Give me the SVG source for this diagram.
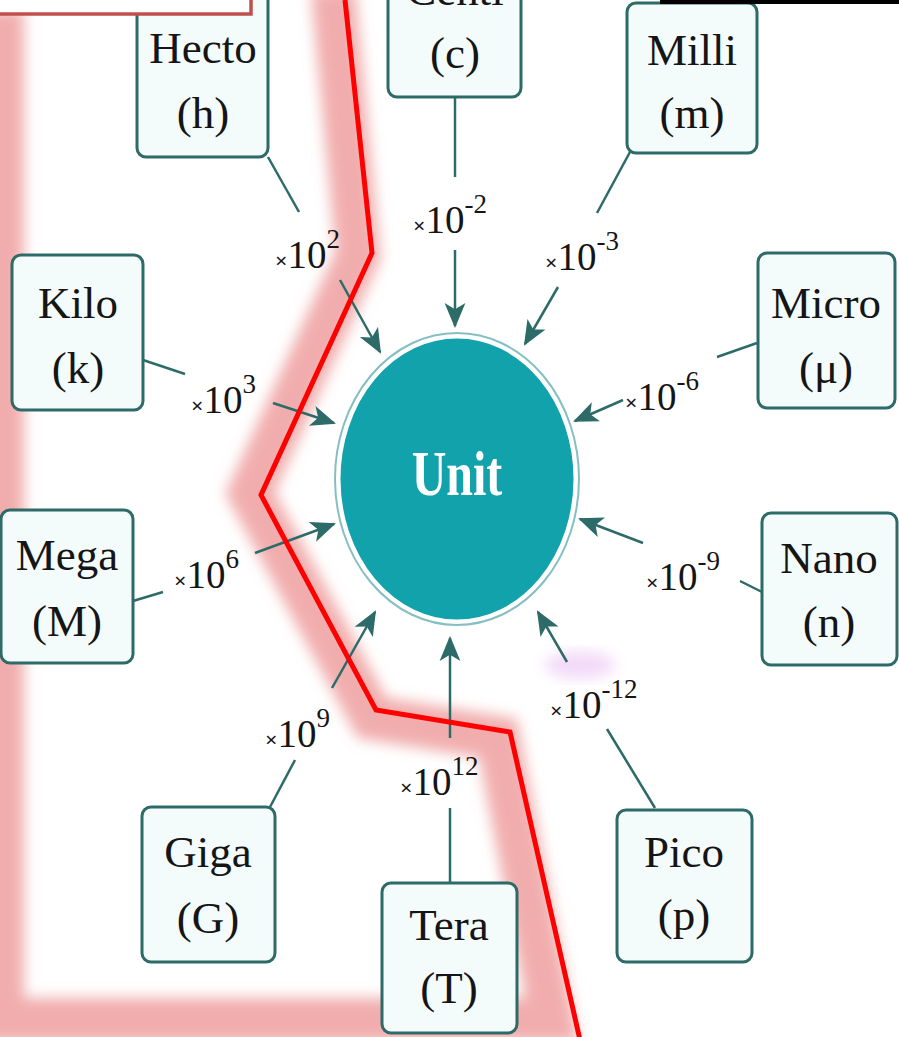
<svg xmlns="http://www.w3.org/2000/svg" width="899" height="1037" viewBox="0 0 899 1037">
<defs>
<style>
.box{fill:#f3fbfb;stroke:#2d6b68;stroke-width:3}
.nt{font-family:"Liberation Serif","Times New Roman",serif;font-size:45px;fill:#151515;text-anchor:middle}
.lb{font-family:"Liberation Serif","Times New Roman",serif;fill:#151515}
.x{font-size:22px;font-weight:bold}
.n{font-size:39px}
.s{font-size:27px}
.ln{stroke:#2d6b68;stroke-width:2.5;fill:none}
.ar{stroke:#2d6b68;stroke-width:2.5;fill:none;marker-end:url(#ah)}
</style>
<marker id="ah" viewBox="0 0 12 10" refX="11" refY="5" markerWidth="10" markerHeight="9" orient="auto" markerUnits="strokeWidth">
<path d="M0,0 L12,5 L0,10 L3,5 Z" fill="#2d6b68"/>
</marker>
<filter id="bl" x="-20%" y="-20%" width="140%" height="140%"><feGaussianBlur stdDeviation="7"/></filter>
</defs>
<rect width="899" height="1037" fill="#ffffff"/>
<g id="highlight">
<path d="M2,10 L2,1020 L552,1020 L498,738 L372,718 L250,493 L358,255 L333,-10" fill="none" stroke="#ee9898" stroke-opacity="0.8" stroke-width="44" filter="url(#bl)"/>
<ellipse cx="580" cy="665" rx="35" ry="14" fill="#e4aef0" opacity="0.45" filter="url(#bl)"/>
</g>
<g id="connectors">
<line class="ln" x1="268" y1="157" x2="299" y2="212"/>
<line class="ar" x1="340" y1="280" x2="380" y2="352"/>
<line class="ln" x1="143" y1="360" x2="185" y2="374"/>
<line class="ar" x1="273" y1="403" x2="334" y2="423"/>
<line class="ln" x1="133" y1="601" x2="163" y2="592"/>
<line class="ar" x1="255" y1="553" x2="334" y2="524"/>
<line class="ln" x1="270" y1="807" x2="295" y2="760"/>
<line class="ar" x1="332" y1="688" x2="375" y2="612"/>
<line class="ln" x1="450" y1="883" x2="450" y2="808"/>
<line class="ar" x1="450" y1="738" x2="450" y2="638"/>
<line class="ln" x1="655" y1="808" x2="607" y2="729"/>
<line class="ar" x1="567" y1="662" x2="538" y2="612"/>
<line class="ln" x1="762" y1="592" x2="740" y2="581"/>
<line class="ar" x1="643" y1="543" x2="580" y2="519"/>
<line class="ln" x1="757" y1="343" x2="717" y2="357"/>
<line class="ar" x1="623" y1="400" x2="575" y2="421"/>
<line class="ln" x1="630" y1="152" x2="597" y2="213"/>
<line class="ar" x1="558" y1="287" x2="525" y2="344"/>
<line class="ln" x1="455" y1="97" x2="455" y2="177"/>
<line class="ar" x1="455" y1="250" x2="455" y2="326"/>
</g>
<g id="labels">
<text class="lb" x="275" y="268"><tspan class="x">×</tspan><tspan class="n">10</tspan><tspan class="s" dy="-20">2</tspan></text>
<text class="lb" x="191" y="413"><tspan class="x">×</tspan><tspan class="n">10</tspan><tspan class="s" dy="-20">3</tspan></text>
<text class="lb" x="174" y="588"><tspan class="x">×</tspan><tspan class="n">10</tspan><tspan class="s" dy="-20">6</tspan></text>
<text class="lb" x="265" y="747"><tspan class="x">×</tspan><tspan class="n">10</tspan><tspan class="s" dy="-20">9</tspan></text>
<text class="lb" x="400" y="795"><tspan class="x">×</tspan><tspan class="n">10</tspan><tspan class="s" dy="-20">12</tspan></text>
<text class="lb" x="550" y="718"><tspan class="x">×</tspan><tspan class="n">10</tspan><tspan class="s" dy="-20">-12</tspan></text>
<text class="lb" x="646" y="590"><tspan class="x">×</tspan><tspan class="n">10</tspan><tspan class="s" dy="-20">-9</tspan></text>
<text class="lb" x="625" y="410"><tspan class="x">×</tspan><tspan class="n">10</tspan><tspan class="s" dy="-20">-6</tspan></text>
<text class="lb" x="545" y="270"><tspan class="x">×</tspan><tspan class="n">10</tspan><tspan class="s" dy="-20">-3</tspan></text>
<text class="lb" x="413" y="233"><tspan class="x">×</tspan><tspan class="n">10</tspan><tspan class="s" dy="-20">-2</tspan></text>
</g>
<g id="unit">
<ellipse cx="457" cy="479" rx="122" ry="146" fill="none" stroke="#86bfc2" stroke-width="2"/>
<ellipse cx="457" cy="479" rx="118" ry="142" fill="#12a2ab" stroke="#ffffff" stroke-width="3"/>
<text x="457" y="495" transform="translate(457 495) scale(1 1.3) translate(-457 -495)" font-family="'Liberation Serif','Times New Roman',serif" font-size="48" font-weight="bold" fill="#ffffff" text-anchor="middle">Unit</text>
</g>
<g id="hecto"><rect class="box" x="137" y="-8" width="131" height="165" rx="9"/><text class="nt" x="203" y="63">Hecto</text><text class="nt" x="203" y="128">(h)</text></g>
<g id="centi"><rect class="box" x="388" y="-70" width="133" height="167" rx="9"/><text class="nt" x="455" y="5">Centi</text><text class="nt" x="455" y="68">(c)</text></g>
<g id="milli"><rect class="box" x="627" y="3" width="130" height="150" rx="9"/><text class="nt" x="692" y="65">Milli</text><text class="nt" x="692" y="128">(m)</text></g>
<g id="kilo"><rect class="box" x="12" y="255" width="131" height="155" rx="9"/><text class="nt" x="78" y="318">Kilo</text><text class="nt" x="78" y="383">(k)</text></g>
<g id="mega"><rect class="box" x="1" y="510" width="132" height="153" rx="9"/><text class="nt" x="67" y="570">Mega</text><text class="nt" x="67" y="636">(M)</text></g>
<g id="micro"><rect class="box" x="758" y="253" width="137" height="155" rx="9"/><text class="nt" x="826" y="318">Micro</text><text class="nt" x="826" y="383">(μ)</text></g>
<g id="nano"><rect class="box" x="762" y="513" width="135" height="152" rx="9"/><text class="nt" x="829" y="573">Nano</text><text class="nt" x="829" y="637">(n)</text></g>
<g id="giga"><rect class="box" x="142" y="807" width="133" height="155" rx="9"/><text class="nt" x="208" y="867">Giga</text><text class="nt" x="208" y="933">(G)</text></g>
<g id="tera"><rect class="box" x="382" y="883" width="135" height="150" rx="9"/><text class="nt" x="449" y="940">Tera</text><text class="nt" x="449" y="1003">(T)</text></g>
<g id="pico"><rect class="box" x="617" y="810" width="135" height="152" rx="9"/><text class="nt" x="684" y="867">Pico</text><text class="nt" x="684" y="930">(p)</text></g>
<g id="annotations">
<polyline points="345,0 372,253 261,495 376,710 510,732 580,1040" fill="none" stroke="#ff0000" stroke-width="5" stroke-linejoin="miter"/>
<rect x="-5" y="-5" width="256" height="19" fill="#ffffff" stroke="#c0504d" stroke-width="3.5"/>
<rect x="660" y="0" width="239" height="4" fill="#000000"/>
</g>
</svg>
